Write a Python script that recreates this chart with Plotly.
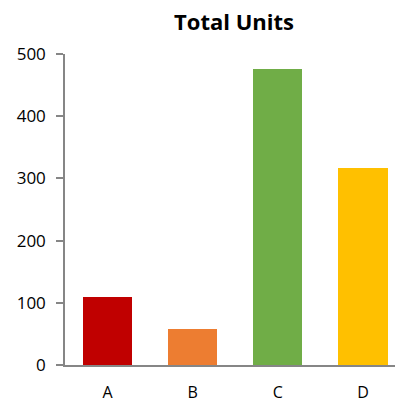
import plotly.graph_objects as go

categories = ["A", "B", "C", "D"]
units = [110, 58, 476, 317]
colors = ["#C00000", "#ED7D31", "#70AD47", "#FFC000"]

# page body has an 8px margin; the figure is sized to fit the 403x402 window from there
W, H = 395, 394
fig = go.Figure(go.Bar(x=categories, y=units, marker=dict(color=colors, line=dict(width=0)), width=0.576))

fig.update_layout(
    width=W, height=H,
    margin=dict(l=57, r=0, t=46, b=37, pad=0),
    paper_bgcolor="white", plot_bgcolor="white",
    font=dict(family="Open Sans, sans-serif", size=16, color="#000"),
    title=dict(text="<b>Total Units</b>", x=(57 + W) / 2 / W, xanchor="center", y=1 - 14 / H, yanchor="middle",
               font=dict(size=22, family="Open Sans, sans-serif", color="#000")),
    showlegend=False,
    bargap=0,
)
fig.update_yaxes(range=[0, 500], dtick=100, showgrid=False, zeroline=False, automargin=False,
                 showline=True, linecolor="#868686", linewidth=1.5,
                 ticks="outside", ticklen=7, tickcolor="#868686", tickwidth=1.5,
                 ticklabelstandoff=7, tickfont=dict(size=17, family="Open Sans, sans-serif"))
fig.update_xaxes(range=[-0.5, 3.47], showgrid=False, automargin=False, showline=True, linecolor="#868686", linewidth=1.5,
                 ticks="", ticklabelstandoff=12, tickfont=dict(size=16, family="Open Sans, sans-serif"))

fig.write_html("out.html")
